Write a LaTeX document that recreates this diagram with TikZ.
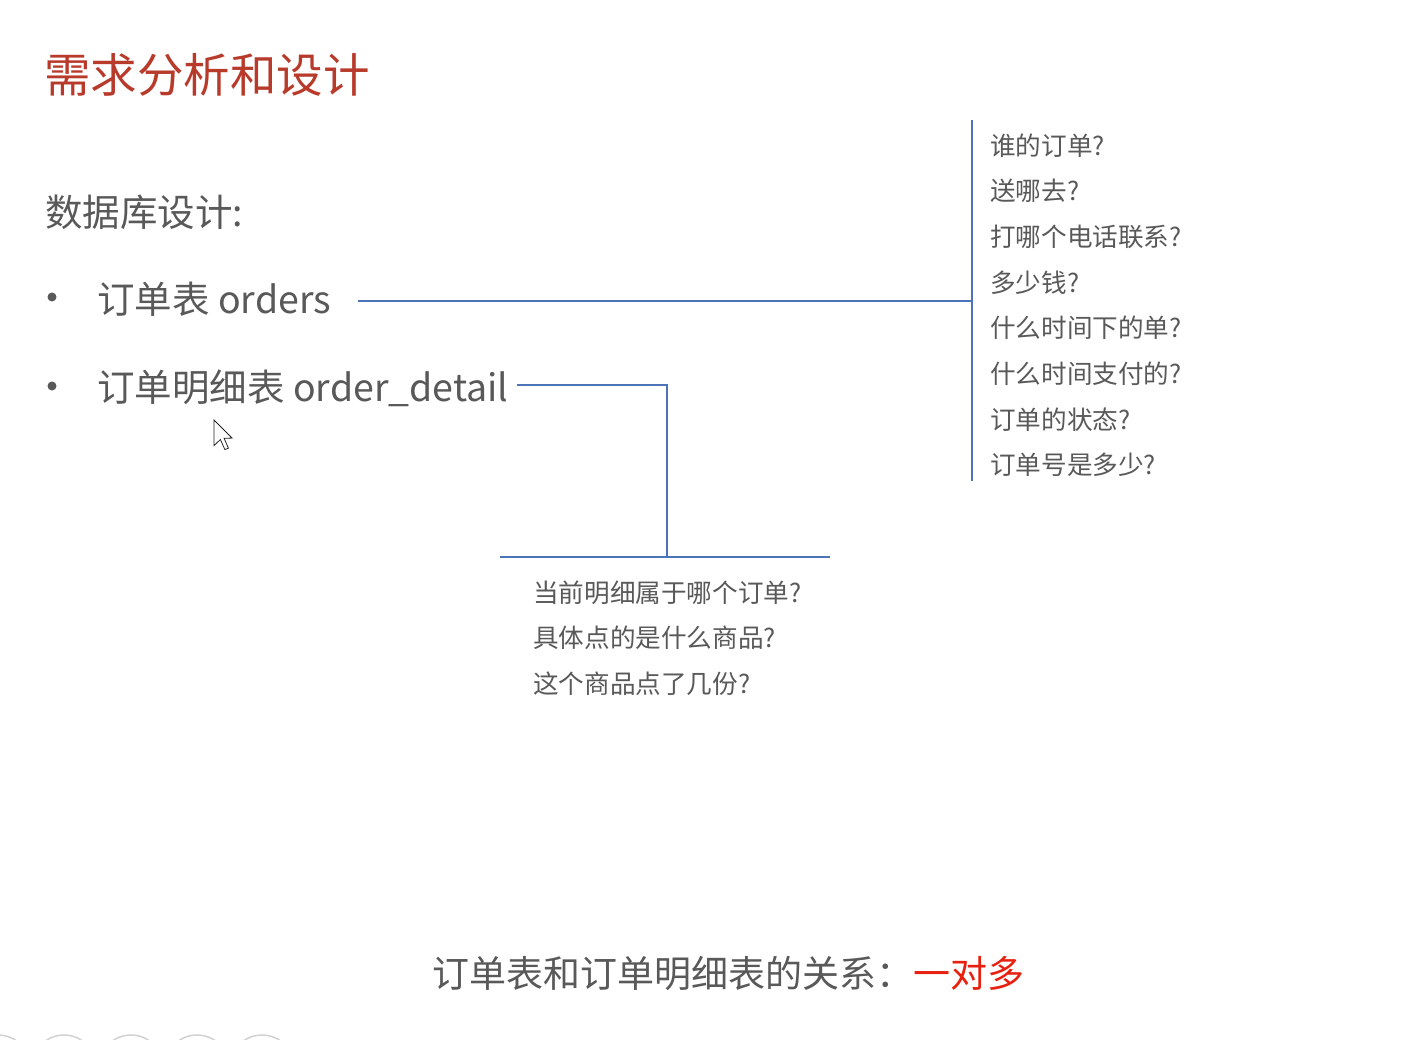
\documentclass[tikz,border=0pt]{standalone}
\usepackage{fontspec}
\setmainfont{Noto Sans CJK SC}
\definecolor{titlered}{HTML}{B83A2B}
\definecolor{bodygray}{HTML}{595959}
\definecolor{linkblue}{HTML}{4D74B9}
\definecolor{accentred}{HTML}{E8200F}
\definecolor{dotgray}{HTML}{D2D2D2}
\begin{document}
\begin{tikzpicture}[x=1pt,y=-1pt,
  txt/.style={anchor=base west,inner sep=0pt,text=bodygray},
  big/.style={txt,font=\fontsize{37.5}{40}\selectfont},
  small/.style={txt,font=\fontsize{25.6}{28}\selectfont},
  link/.style={draw=linkblue,line width=2pt},
  bulletdot/.style={fill=bodygray,draw=none,circle,minimum size=9pt,inner sep=0pt}]
\useasboundingbox[fill=white] (0,0) rectangle (1421,1039);
\clip (0,0) rectangle (1421,1039);

% heading
\node[txt,text=titlered,font=\fontsize{46.5}{50}\selectfont] (title) at (44,92) {需求分析和设计};
\node[big] (section) at (45,226) {数据库设计:};

% bullet items
\node[bulletdot] (b1) at (52,297) {};
\node[bulletdot] (b2) at (52,386) {};
\node[big] (orders) at (97,313) {订单表 orders};
\node[big] (detail) at (97,401) {订单明细表 order\_detail};

% questions for orders
\foreach \q [count=\i from 0] in {谁的订单?,送哪去?,打哪个电话联系?,多少钱?,什么时间下的单?,什么时间支付的?,订单的状态?,订单号是多少?}
  \node[small] (oq\i) at (990,{155+45.7*\i}) {\q};

% questions for order details
\node[small] (dq0) at (533,602) {当前明细属于哪个订单?};
\node[small] (dq1) at (533,647) {具体点的是什么商品?};
\node[small] (dq2) at (533,693) {这个商品点了几份?};

% brackets
\coordinate (otop) at (972,120);
\coordinate (obot) at (972,481);
\coordinate (ojoin) at (972,301);
\coordinate (ostart) at (358,301);
\coordinate (dstart) at (517,385);
\coordinate (dcorner) at (667,385);
\coordinate (djoin) at (667,557);
\coordinate (dleft) at (500,557);
\coordinate (dright) at (830,557);
\draw[link] (otop) -- (obot);
\draw[link] (ostart) -- (ojoin);
\draw[link] (dstart) -- (dcorner) -- (djoin);
\draw[link] (dleft) -- (dright);

% relation
\node[big,font=\fontsize{37}{40}\selectfont] (rel) at (432,987) {订单表和订单明细表的关系：\textcolor{accentred}{一对多}};

% mouse pointer
\begin{scope}[shift={(214,420)},scale=1.6]
  \filldraw[fill=white,draw=black!85,line width=0.8pt,line join=miter]
    (0,0) -- (0,16) -- (4,12.2) -- (6.8,18.5) -- (9,17.6) -- (6.3,11.4) -- (11.3,11.3) -- cycle;
\end{scope}

% slide navigation dots
\foreach \cx in {-2,64,131,197,262}
  \draw[dotgray,line width=1.5pt] (\cx,1067) circle (32);
\end{tikzpicture}
\end{document}
